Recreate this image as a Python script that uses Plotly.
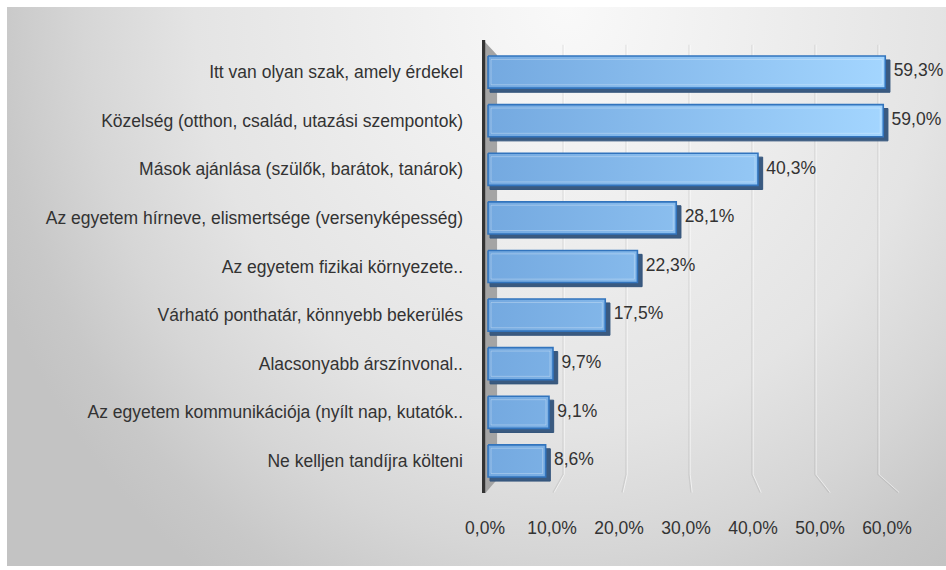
import base64
import plotly.graph_objects as go

# Reasons for choosing the university (share of respondents, %)
categories = [
    "Itt van olyan szak, amely érdekel",
    "Közelség (otthon, család, utazási szempontok)",
    "Mások ajánlása (szülők, barátok, tanárok)",
    "Az egyetem hírneve, elismertsége (versenyképesség)",
    "Az egyetem fizikai környezete..",
    "Várható ponthatár, könnyebb bekerülés",
    "Alacsonyabb árszínvonal..",
    "Az egyetem kommunikációja (nyílt nap, kutatók..",
    "Ne kelljen tandíjra költeni",
]
values = [59.3, 59.0, 40.3, 28.1, 22.3, 17.5, 9.7, 9.1, 8.6]
tick_values = [0, 10, 20, 30, 40, 50, 60]
tick_labels = ["0,0%", "10,0%", "20,0%", "30,0%", "40,0%", "50,0%", "60,0%"]

W, H = 946, 570
ML, MR, MT, MB = 482, 44, 40, 77
PW, PH = W - ML - MR, H - MT - MB
X_RANGE = [-0.9, 61.8]
Y_RANGE = [8.66, -0.66]

FONT = "Liberation Sans, Arial, sans-serif"
TXT = "#333333"
FS = 17.5
BAR_H = 0.66


def px_to_paper_x(px):
    return (px - ML) / PW


def px_to_paper_y(py):
    return 1 - (py - MT) / PH


fig = go.Figure()

# 3D shadow / side faces of the bars
sx, sy = [], []
for i, v in enumerate(values):
    y0, y1 = i - BAR_H / 2 + 0.08, i + BAR_H / 2 + 0.085
    sx += [0.3, v + 0.7, v + 0.7, 0.3, 0.3, None]
    sy += [y0, y0, y1, y1, y0, None]
fig.add_trace(go.Scatter(x=sx, y=sy, mode="lines", fill="toself",
                         fillcolor="#3a5a80", line=dict(color="#34557c", width=1),
                         hoverinfo="skip", showlegend=False))

# Front faces of the bars with a horizontal gradient
fx, fy = [], []
for i, v in enumerate(values):
    y0, y1 = i - BAR_H / 2, i + BAR_H / 2
    fx += [0, v, v, 0, 0, None]
    fy += [y0, y0, y1, y1, y0, None]
fig.add_trace(go.Scatter(
    x=fx, y=fy, mode="lines", fill="toself",
    fillgradient=dict(type="horizontal",
                      colorscale=[[0, "#74a9e0"], [1, "#a4d6ff"]],
                      start=0, stop=60),
    line=dict(color="#3274bd", width=1.6),
    hoverinfo="skip", showlegend=False))

# Inner bevel highlight
bx, by = [], []
for i, v in enumerate(values):
    y0, y1 = i - BAR_H / 2 + 0.07, i + BAR_H / 2 - 0.07
    bx += [0.45, v - 0.45, v - 0.45, 0.45, 0.45, None]
    by += [y0, y0, y1, y1, y0, None]
fig.add_trace(go.Scatter(x=bx, y=by, mode="lines",
                         line=dict(color="rgba(255,255,255,0.28)", width=1),
                         hoverinfo="skip", showlegend=False))

# Value labels
fig.add_trace(go.Scatter(
    x=[v + 1.25 for v in values], y=list(range(len(values))),
    mode="text", text=[f"{v:.1f}".replace(".", ",") + "%" for v in values],
    textposition="middle right",
    textfont=dict(family=FONT, size=FS, color=TXT),
    cliponaxis=False, hoverinfo="skip", showlegend=False))

shapes = []
# Perspective gridlines: back wall, bending towards the front edge at the floor
for v in tick_values[1:]:
    back = 1.8 + 0.94 * v
    front = 1.03 * v - 0.6
    path = f"M {back},-0.56 L {back},8.28 L {front},8.65"
    shapes.append(dict(type="path", path=path, xref="x", yref="y", layer="below",
                       line=dict(color="rgba(0,0,0,0.07)", width=1.5)))
    path2 = f"M {back + 0.18},-0.56 L {back + 0.18},8.28 L {front + 0.18},8.65"
    shapes.append(dict(type="path", path=path2, xref="x", yref="y", layer="below",
                       line=dict(color="rgba(255,255,255,0.6)", width=1)))

# Side wall of the category axis
shapes.append(dict(type="path", xref="x", yref="y", layer="below",
                   path="M -0.45,-0.62 L 1.35,-0.35 L 1.35,8.38 L -0.45,8.67 Z",
                   fillcolor="#a4a4a4", line=dict(width=0)))
shapes.append(dict(type="line", xref="x", yref="y", layer="above",
                   x0=-0.72, x1=-0.72, y0=-0.66, y1=8.66,
                   line=dict(color="#333333", width=4)))

# Chart area background with a soft gradient
svg = (
    "<svg xmlns='http://www.w3.org/2000/svg' width='939' height='559' "
    "viewBox='0 0 939 559' preserveAspectRatio='none'>"
    "<defs><radialGradient id='g' gradientUnits='userSpaceOnUse' cx='560' cy='0' r='620' "
    "gradientTransform='translate(560 0) scale(1 1.13) translate(-560 0)'>"
    "<stop offset='0' stop-color='#f9f9f9'/>"
    "<stop offset='0.6' stop-color='#e4e4e4'/>"
    "<stop offset='0.78' stop-color='#d6d6d6'/>"
    "<stop offset='0.92' stop-color='#c8c8c8'/>"
    "<stop offset='1' stop-color='#c3c3c3'/>"
    "</radialGradient></defs>"
    "<rect width='939' height='559' fill='url(#g)'/></svg>"
)
bg_src = "data:image/svg+xml;base64," + base64.b64encode(svg.encode()).decode()

fig.update_layout(
    width=W, height=H,
    margin=dict(l=ML, r=MR, t=MT, b=MB),
    paper_bgcolor="white", plot_bgcolor="rgba(0,0,0,0)",
    showlegend=False,
    shapes=shapes,
    images=[dict(source=bg_src, xref="paper", yref="paper",
                 x=px_to_paper_x(7), y=px_to_paper_y(7),
                 sizex=939 / PW, sizey=559 / PH,
                 xanchor="left", yanchor="top", sizing="stretch", layer="below")],
    xaxis=dict(range=X_RANGE, tickvals=tick_values, ticktext=tick_labels,
               showgrid=False, zeroline=False, showline=False, ticks="",
               ticklabelstandoff=22, ticklabelshift=-3,
               tickfont=dict(family=FONT, size=FS, color=TXT)),
    yaxis=dict(range=Y_RANGE, tickvals=list(range(len(categories))), ticktext=categories,
               showgrid=False, zeroline=False, showline=False, ticks="",
               ticklabelstandoff=18,
               tickfont=dict(family=FONT, size=FS, color=TXT)),
)

fig.write_html("out.html")
